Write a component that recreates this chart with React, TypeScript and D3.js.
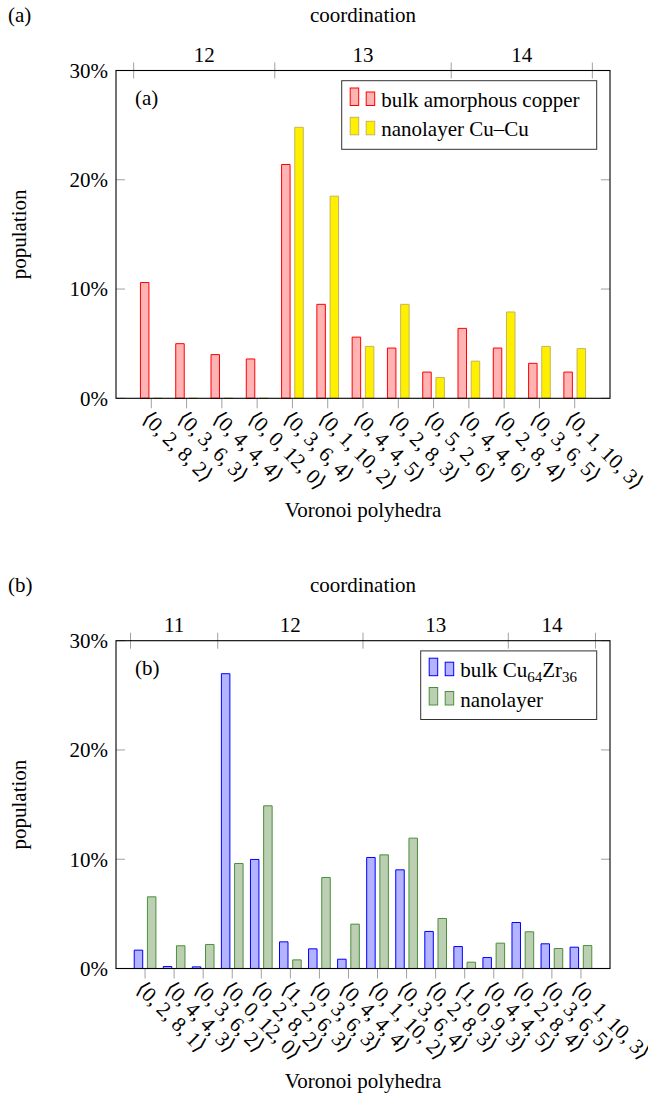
import React from 'react';
import * as d3 from 'd3';

const FONT = "'Liberation Serif', 'DejaVu Serif', serif";

// panel (a): Cu-Cu
const polyA = ['0, 2, 8, 2', '0, 3, 6, 3', '0, 4, 4, 4', '0, 0, 12, 0', '0, 3, 6, 4', '0, 1, 10, 2', '0, 4, 4, 5',
  '0, 2, 8, 3', '0, 5, 2, 6', '0, 4, 4, 6', '0, 2, 8, 4', '0, 3, 6, 5', '0, 1, 10, 3'];
const bulkCopper = [10.6, 5.0, 4.0, 3.6, 21.4, 8.6, 5.6, 4.6, 2.4, 6.4, 4.6, 3.2, 2.4];
const nanoCuCu = [0, 0, 0, 0, 24.8, 18.5, 4.75, 8.6, 1.9, 3.4, 7.9, 4.75, 4.55];
const coordA = ['12', '13', '14'];
const coordCountA = [4, 5, 4];

// panel (b): CuZr
const polyB = ['0, 2, 8, 1', '0, 4, 4, 3', '0, 3, 6, 2', '0, 0, 12, 0', '0, 2, 8, 2', '1, 2, 6, 3', '0, 3, 6, 3',
  '0, 4, 4, 4', '0, 1, 10, 2', '0, 3, 6, 4', '0, 2, 8, 3', '1, 0, 9, 3', '0, 4, 4, 5', '0, 2, 8, 4', '0, 3, 6, 5', '0, 1, 10, 3'];
const bulkCuZr = [1.68, 0.18, 0.15, 26.98, 9.98, 2.44, 1.8, 0.85, 10.16, 9.03, 3.39, 2.01, 1.0, 4.21, 2.26, 1.95];
const nanoCuZr = [6.56, 2.08, 2.2, 9.61, 14.89, 0.79, 8.33, 4.06, 10.4, 11.93, 4.58, 0.58, 2.32, 3.36, 1.83, 2.1];
const coordB = ['11', '12', '13', '14'];
const coordCountB = [3, 5, 5, 3];

const yTicks = [0, 10, 20, 30];

const LEFT = 116;
const RIGHT = 610;
const H = 327.8;
const BAR_W = 8.5;
const SHIFT = 6.6;
const TICK = '#a0a0a0';

type Series = { values: number[]; fill: string; stroke: string };

function Panel({ top, tag, cats, series, coord, counts, legendX, legendLabels }: {
  top: number; tag: string; cats: string[]; series: Series[]; coord: string[]; counts: number[];
  legendX: number; legendLabels: React.ReactNode[];
}) {
  const bottom = top + H;
  const x = d3.scaleLinear().domain([-1, cats.length]).range([LEFT, RIGHT]);
  const y = d3.scaleLinear().domain([0, 30]).range([bottom, top]);

  // coordination group boundaries
  const bounds = [-0.5];
  counts.forEach(c => bounds.push(bounds[bounds.length - 1] + c));

  const barPath = (cx: number, v: number) => {
    const x0 = cx - BAR_W / 2;
    return `M${x0},${y(0)}V${y(v)}H${x0 + BAR_W}V${y(0)}Z`;
  };

  return (
    <g style={{ fontFamily: FONT, fontSize: 21 }} fill="#000">
      <text x={8} y={top - 48.5}>{`(${tag})`}</text>
      <text x={(LEFT + RIGHT) / 2} y={top - 48.5} textAnchor="middle">coordination</text>

      {/* bars */}
      {series.map((s, si) => (
        <g key={si}>
          {s.values.map((v, i) => (
            <path key={i} d={barPath(x(i) + (si === 0 ? -SHIFT : SHIFT), v)}
              fill={s.fill} stroke={s.stroke} strokeWidth={1} />
          ))}
        </g>
      ))}

      {/* y ticks inside, both sides */}
      {yTicks.map(t => (
        <g key={t}>
          <line x1={LEFT} x2={LEFT + 9} y1={y(t)} y2={y(t)} stroke={TICK} />
          <line x1={RIGHT} x2={RIGHT - 9} y1={y(t)} y2={y(t)} stroke={TICK} />
          <text x={108} y={y(t)} dy="0.35em" textAnchor="end">{`${t}%`}</text>
        </g>
      ))}

      {/* x ticks outside */}
      {cats.map((c, i) => (
        <g key={c + i}>
          <line x1={x(i)} x2={x(i)} y1={bottom} y2={bottom + 10} stroke={TICK} />
          <text transform={`translate(${x(i)},${bottom + 11}) rotate(45)`} dy="0.7em">{`\u27E8${c}\u27E9`}</text>
        </g>
      ))}

      {/* coordination axis on top */}
      {bounds.map((b, i) => (
        <line key={i} x1={x(b)} x2={x(b)} y1={top - 8} y2={top + 8} stroke={TICK} />
      ))}
      {coord.map((c, i) => (
        <text key={c} x={x((bounds[i] + bounds[i + 1]) / 2)} y={top - 9} textAnchor="middle">{c}</text>
      ))}

      {/* frame */}
      <rect x={LEFT} y={top} width={RIGHT - LEFT} height={H} fill="none" stroke="#000" strokeWidth={1.1} />

      <text x={135} y={top + 34.5}>{`(${tag})`}</text>

      {/* legend */}
      <rect x={legendX} y={top + 10.2} width={596.7 - legendX} height={68.6} fill="#fff" stroke="#333" strokeWidth={1} />
      {series.map((s, si) => {
        const ly = top + 35 + si * 29.3;
        return (
          <g key={si}>
            <rect x={legendX + 8.5} y={ly - 17.5} width={8.5} height={17.5} fill={s.fill} stroke={s.stroke} />
            <rect x={legendX + 24.5} y={ly - 13.5} width={8.5} height={13.5} fill={s.fill} stroke={s.stroke} />
            <text x={legendX + 39.5} y={ly + 1.5}>{legendLabels[si]}</text>
          </g>
        );
      })}

      <text transform={`translate(25.5,${(top + bottom) / 2}) rotate(-90)`} textAnchor="middle">population</text>
      <text x={(LEFT + RIGHT) / 2} y={bottom + 119} textAnchor="middle">Voronoi polyhedra</text>
    </g>
  );
}

export default function App() {
  return (
    <svg width={648} height={1096} style={{ position: 'absolute', left: 0, top: 0, background: '#fff' }}>
      <rect width={648} height={1096} fill="#fff" />
      <Panel top={70.5} tag="a" cats={polyA}
        series={[
          { values: bulkCopper, fill: '#ffb3b3', stroke: '#ff0000' },
          { values: nanoCuCu, fill: '#fff000', stroke: '#c8b45a' },
        ]}
        coord={coordA} counts={coordCountA} legendX={341.7}
        legendLabels={['bulk amorphous copper', 'nanolayer Cu\u2013Cu']} />
      <Panel top={640.7} tag="b" cats={polyB}
        series={[
          { values: bulkCuZr, fill: '#b3b3ff', stroke: '#0000ff' },
          { values: nanoCuZr, fill: '#bccfb3', stroke: '#4a8f3c' },
        ]}
        coord={coordB} counts={coordCountB} legendX={420.7}
        legendLabels={[
          <>bulk Cu<tspan fontSize={15} dy={5}>64</tspan><tspan dy={-5}>Zr</tspan><tspan fontSize={15} dy={5}>36</tspan></>,
          'nanolayer',
        ]} />
    </svg>
  );
}
